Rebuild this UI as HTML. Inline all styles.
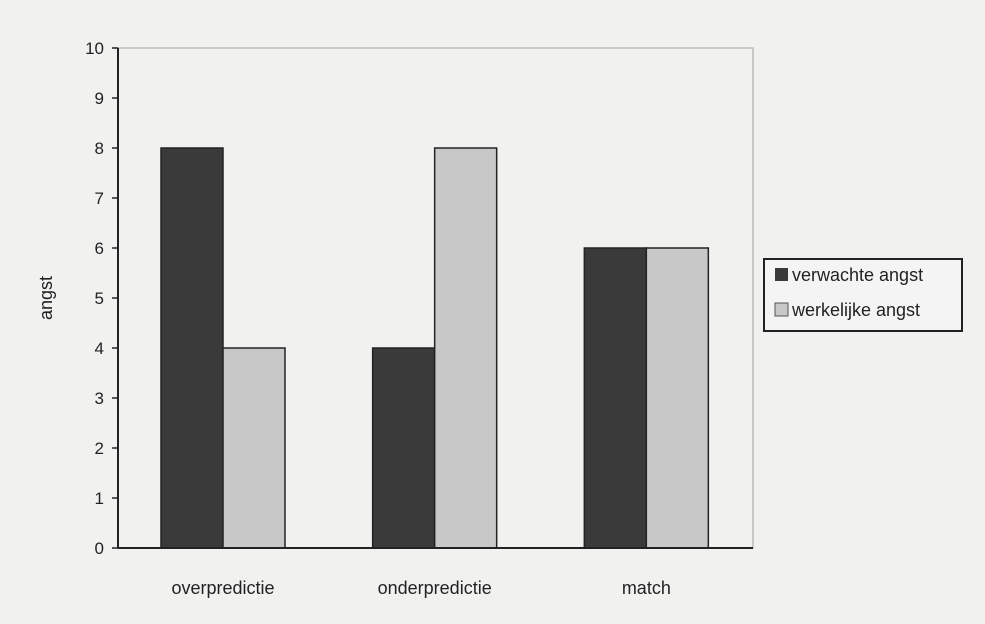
<!DOCTYPE html>
<html><head><meta charset="utf-8"><style>
html,body{margin:0;padding:0;background:#f1f1f0;}
svg{display:block;font-family:"Liberation Sans",Arial,sans-serif;}
</style></head><body>
<svg id="chart" width="985" height="624" viewBox="0 0 985 624">
<rect x="0" y="0" width="985" height="624" fill="#f1f1f0"/>
<g id="plot"></g>
<text x="52" y="298" font-size="18" fill="#222" text-anchor="middle" transform="rotate(-90 52 298)">angst</text>
<g>
<rect x="764" y="259" width="198" height="72" fill="#f4f4f4" stroke="#222" stroke-width="2"/>
<rect x="775" y="268" width="13" height="13" fill="#3a3a3a"/>
<text x="792" y="281" font-size="18" fill="#222">verwachte angst</text>
<rect x="775" y="303" width="13" height="13" fill="#c8c8c8" stroke="#555" stroke-width="1"/>
<text x="792" y="316" font-size="18" fill="#222">werkelijke angst</text>
</g>
</svg>
<script>
const categories = ["overpredictie", "onderpredictie", "match"];
const verwachte = [8, 4, 6];
const werkelijke = [4, 8, 6];
const yTicks = [0,1,2,3,4,5,6,7,8,9,10];

const X0 = 118, X1 = 753, Y0 = 548, Y1 = 48, YMAX = 10;
const ns = "http://www.w3.org/2000/svg";
const g = document.getElementById("plot");
function y(v){ return Y0 - (v / YMAX) * (Y0 - Y1); }
const gw = (X1 - X0) / categories.length;
function gx(i){ return X0 + i * gw; }
const barW = 62, offset = 43;
function mk(tag, attrs){ const e = document.createElementNS(ns, tag); for (const k in attrs) e.setAttribute(k, attrs[k]); g.appendChild(e); return e; }

let frame = mk("rect", {x:X0, y:Y1, width:X1-X0, height:Y0-Y1, fill:"none", stroke:"#bbb", "stroke-width":1.5});



yTicks.forEach(t => {
  const tk = mk("line", {x1:X0-6, x2:X0, y1:y(t), y2:y(t), stroke:"#222", "stroke-width":1.5});
  
  
  const lb = mk("text", {x:X0-14, y:y(t)+6, "font-size":17, fill:"#222", "text-anchor":"end"});
  lb.textContent = t;
  
  
});

categories.forEach((c, i) => {
  const bx = gx(i) + offset;
  const b1 = mk("rect", {x:bx, y:y(verwachte[i]), width:barW, height:Y0-y(verwachte[i]), fill:"#3a3a3a", stroke:"#222", "stroke-width":1.5});
  
  
  const b2 = mk("rect", {x:bx+barW, y:y(werkelijke[i]), width:barW, height:Y0-y(werkelijke[i]), fill:"#c8c8c8", stroke:"#222", "stroke-width":1.5});
  
  
  const lb = mk("text", {x:bx+barW, y:Y0+46, "font-size":18, fill:"#222", "text-anchor":"middle"});
  lb.textContent = c;
  
  
});

const yax = mk("line", {x1:X0, x2:X0, y1:Y1, y2:Y0, stroke:"#222", "stroke-width":2});


const xax = mk("line", {x1:X0, x2:X1, y1:Y0, y2:Y0, stroke:"#222", "stroke-width":2});


</script>
</body></html>
